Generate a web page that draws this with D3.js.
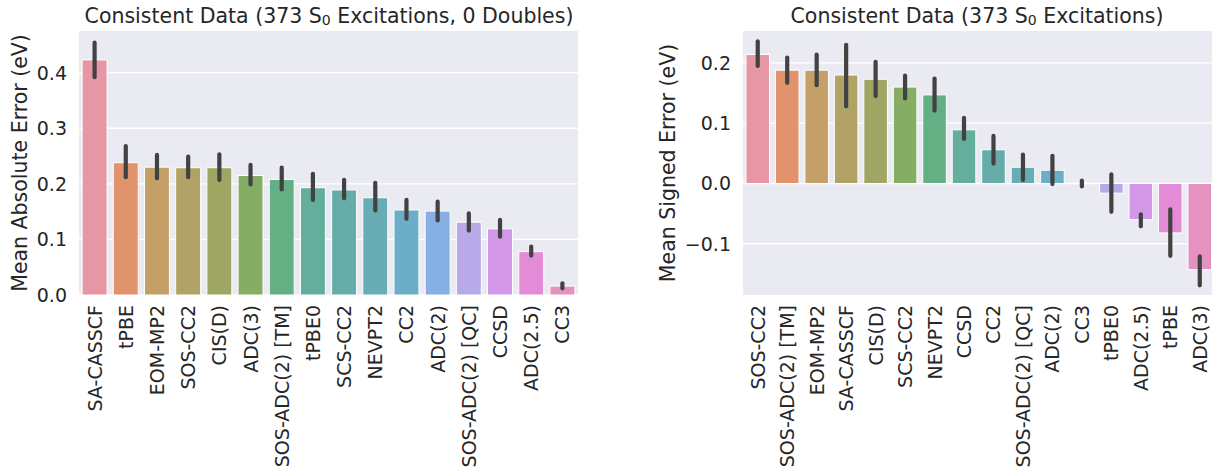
<!DOCTYPE html>
<html>
<head>
<meta charset="utf-8">
<script src="https://cdn.jsdelivr.net/npm/d3@7"></script>
<style>
  html, body { margin: 0; padding: 0; background: #fff; }
  svg { display: block; font-family: "DejaVu Sans", sans-serif; }
</style>
</head>
<body>
<svg id="chart" width="1212" height="467"></svg>
<script>
// ---- Mean absolute error panel ----
const maeMethods = ["SA-CASSCF", "tPBE", "EOM-MP2", "SOS-CC2", "CIS(D)", "ADC(3)", "SOS-ADC(2) [TM]",
  "tPBE0", "SCS-CC2", "NEVPT2", "CC2", "ADC(2)", "SOS-ADC(2) [QC]", "CCSD", "ADC(2.5)", "CC3"];
const maeValues = [0.423, 0.238, 0.230, 0.229, 0.229, 0.215, 0.208, 0.193, 0.189, 0.175, 0.153, 0.151, 0.131, 0.119, 0.078, 0.016];
const maeLow    = [0.392, 0.212, 0.210, 0.212, 0.207, 0.199, 0.190, 0.171, 0.174, 0.152, 0.137, 0.134, 0.116, 0.105, 0.071, 0.012];
const maeHigh   = [0.454, 0.268, 0.252, 0.249, 0.253, 0.234, 0.229, 0.218, 0.207, 0.202, 0.171, 0.168, 0.147, 0.135, 0.087, 0.021];
const maeTicks  = [0.0, 0.1, 0.2, 0.3, 0.4];

// ---- Mean signed error panel ----
const mseMethods = ["SOS-CC2", "SOS-ADC(2) [TM]", "EOM-MP2", "SA-CASSCF", "CIS(D)", "SCS-CC2", "NEVPT2",
  "CCSD", "CC2", "SOS-ADC(2) [QC]", "ADC(2)", "CC3", "tPBE0", "ADC(2.5)", "tPBE", "ADC(3)"];
const mseValues = [0.214, 0.188, 0.188, 0.180, 0.173, 0.160, 0.147, 0.089, 0.056, 0.027, 0.022, 0.0004, -0.016, -0.060, -0.082, -0.143];
const mseLow    = [0.195, 0.167, 0.163, 0.128, 0.145, 0.141, 0.121, 0.074, 0.033, 0.006, -0.001, -0.005, -0.047, -0.071, -0.120, -0.169];
const mseHigh   = [0.236, 0.209, 0.214, 0.230, 0.202, 0.179, 0.174, 0.109, 0.079, 0.048, 0.046, 0.005, 0.015, -0.051, -0.043, -0.121];
const mseTicks  = [-0.1, 0.0, 0.1, 0.2];

// HSLuv colour conversion for an evenly spaced, perceptually uniform hue palette
const M = [
  [3.240969941904521, -1.537383177570093, -0.498610760293],
  [-0.96924363628087, 1.87596750150772, 0.041555057407175],
  [0.055630079696993, -0.20397695888897, 1.056971514242878]
];
const refU = 0.19783000664283, refV = 0.46831999493879;
const kappa = 903.2962962, epsilon = 0.0088564516;

function getBounds(L) {
  const sub1 = Math.pow(L + 16, 3) / 1560896.0;
  const sub2 = sub1 > epsilon ? sub1 : L / kappa;
  const bounds = [];
  for (const [m1, m2, m3] of M) {
    for (const t of [0, 1]) {
      const top1 = (284517.0 * m1 - 94839.0 * m3) * sub2;
      const top2 = (838422.0 * m3 + 769860.0 * m2 + 731718.0 * m1) * L * sub2 - 769860.0 * t * L;
      const bottom = (632260.0 * m3 - 126452.0 * m2) * sub2 + 126452.0 * t;
      bounds.push([top1 / bottom, top2 / bottom]);
    }
  }
  return bounds;
}
function maxChroma(L, H) {
  const hr = H / 360 * Math.PI * 2;
  let best = Infinity;
  for (const [slope, intercept] of getBounds(L)) {
    const len = intercept / (Math.sin(hr) - slope * Math.cos(hr));
    if (len >= 0 && len < best) best = len;
  }
  return best;
}
function fromLinear(c) { return c <= 0.0031308 ? 12.92 * c : 1.055 * Math.pow(c, 1 / 2.4) - 0.055; }
function huslToRgb(H, S, L) {
  const C = maxChroma(L, H) / 100 * S;
  const hr = H * Math.PI / 180;
  const U = Math.cos(hr) * C, V = Math.sin(hr) * C;
  const Y = L > 8 ? Math.pow((L + 16) / 116, 3) : L / kappa;
  const vU = U / (13 * L) + refU, vV = V / (13 * L) + refV;
  const X = 0 - (9 * Y * vU) / ((vU - 4) * vV - vU * vV);
  const Z = (9 * Y - 15 * vV * Y - vV * X) / (3 * vV);
  return M.map(r => Math.min(1, Math.max(0, fromLinear(r[0] * X + r[1] * Y + r[2] * Z))));
}
const panelBg = "#eaeaf2";
function huslPalette(n) {
  const bg = d3.rgb(panelBg);
  return d3.range(n).map(i => {
    const h = ((i / n + 0.01) % 1) * 359;
    const [r, g, b] = huslToRgb(h, 0.9 * 99, 0.65 * 99);
    const c = d3.hsl(d3.rgb(r * 255, g * 255, b * 255));
    c.s *= 0.75;  // muted bar fill
    const rgb = d3.rgb(c);
    // slightly translucent fill, flattened onto the panel background
    const a = 0.8;
    return d3.rgb(rgb.r * a + bg.r * (1 - a), rgb.g * a + bg.g * (1 - a), rgb.b * a + bg.b * (1 - a)).formatHex();
  });
}
const palette = huslPalette(16);

const svg = d3.select("#chart");
const textColor = "#262626";

function panel(cfg) {
  const { methods, values, low, high, ticks, left, right, top, bottom, domain, title, titleX, ylabel, labelX } = cfg;
  const g = svg.append("g");
  const x = d3.scaleBand().domain(methods).range([left, right]).paddingInner(0.2).paddingOuter(0.1);
  const y = d3.scaleLinear().domain(domain).range([bottom, top]);

  const clipId = "clip-" + left;
  svg.append("clipPath").attr("id", clipId).append("rect")
    .attr("x", left).attr("y", top).attr("width", right - left).attr("height", bottom - top);

  g.append("rect").attr("x", left).attr("y", top).attr("width", right - left).attr("height", bottom - top)
    .attr("fill", panelBg);

  // horizontal grid
  g.append("g").selectAll("line").data(ticks).join("line")
    .attr("x1", left).attr("x2", right)
    .attr("y1", d => y(d)).attr("y2", d => y(d))
    .attr("stroke", "#fff").attr("stroke-width", 1.3);

  const plot = g.append("g").attr("clip-path", `url(#${clipId})`);
  plot.selectAll("rect.bar").data(methods).join("rect").attr("class", "bar")
    .attr("x", d => x(d))
    .attr("width", x.bandwidth())
    .attr("y", (d, i) => Math.min(y(values[i]), y(0)))
    .attr("height", (d, i) => Math.abs(y(values[i]) - y(0)))
    .attr("fill", (d, i) => palette[i])
    .attr("stroke", "#fff").attr("stroke-width", 1);

  plot.selectAll("line.err").data(methods).join("line").attr("class", "err")
    .attr("x1", d => x(d) + x.bandwidth() / 2).attr("x2", d => x(d) + x.bandwidth() / 2)
    .attr("y1", (d, i) => y(low[i])).attr("y2", (d, i) => y(high[i]))
    .attr("stroke", "#424242").attr("stroke-width", 4.2).attr("stroke-linecap", "round");

  // y tick labels
  const fmt = d3.format(".1f");
  g.append("g").selectAll("text").data(ticks).join("text")
    .attr("x", left - 12).attr("y", d => y(d))
    .attr("text-anchor", "end").attr("dominant-baseline", "central")
    .attr("fill", textColor).style("font-size", "19px")
    .text(d => fmt(d));

  // x tick labels (rotated)
  g.append("g").selectAll("text").data(methods).join("text")
    .attr("transform", d => `translate(${x(d) + x.bandwidth() / 2},${bottom + 10}) rotate(-90)`)
    .attr("text-anchor", "end").attr("dominant-baseline", "central")
    .attr("fill", textColor).style("font-size", "19px")
    .text(d => d);

  // y axis label
  g.append("text")
    .attr("transform", `translate(${labelX},${(top + bottom) / 2}) rotate(-90)`)
    .attr("text-anchor", "middle").attr("dominant-baseline", "central")
    .attr("fill", textColor).style("font-size", "20.5px")
    .text(ylabel);

  // title with subscript
  const t = g.append("text")
    .attr("x", titleX).attr("y", 16)
    .attr("text-anchor", "middle").attr("dominant-baseline", "central")
    .attr("fill", textColor).style("font-size", "20.5px");
  t.append("tspan").text(title[0]);
  t.append("tspan").attr("baseline-shift", "-25%").style("font-size", "14px").text(title[1]);
  t.append("tspan").text(title[2]);
}

panel({
  methods: maeMethods, values: maeValues, low: maeLow, high: maeHigh, ticks: maeTicks,
  left: 79, right: 578, top: 31, bottom: 295, domain: [0, 0.475],
  title: ["Consistent Data (373 S", "0", " Excitations, 0 Doubles)"], titleX: 329,
  ylabel: "Mean Absolute Error (eV)", labelX: 20
});
panel({
  methods: mseMethods, values: mseValues, low: mseLow, high: mseHigh, ticks: mseTicks,
  left: 743, right: 1214.5, top: 31, bottom: 295, domain: [-0.185, 0.253],
  title: ["Consistent Data (373 S", "0", " Excitations)"], titleX: 977,
  ylabel: "Mean Signed Error (eV)", labelX: 668
});
</script>
</body>
</html>
